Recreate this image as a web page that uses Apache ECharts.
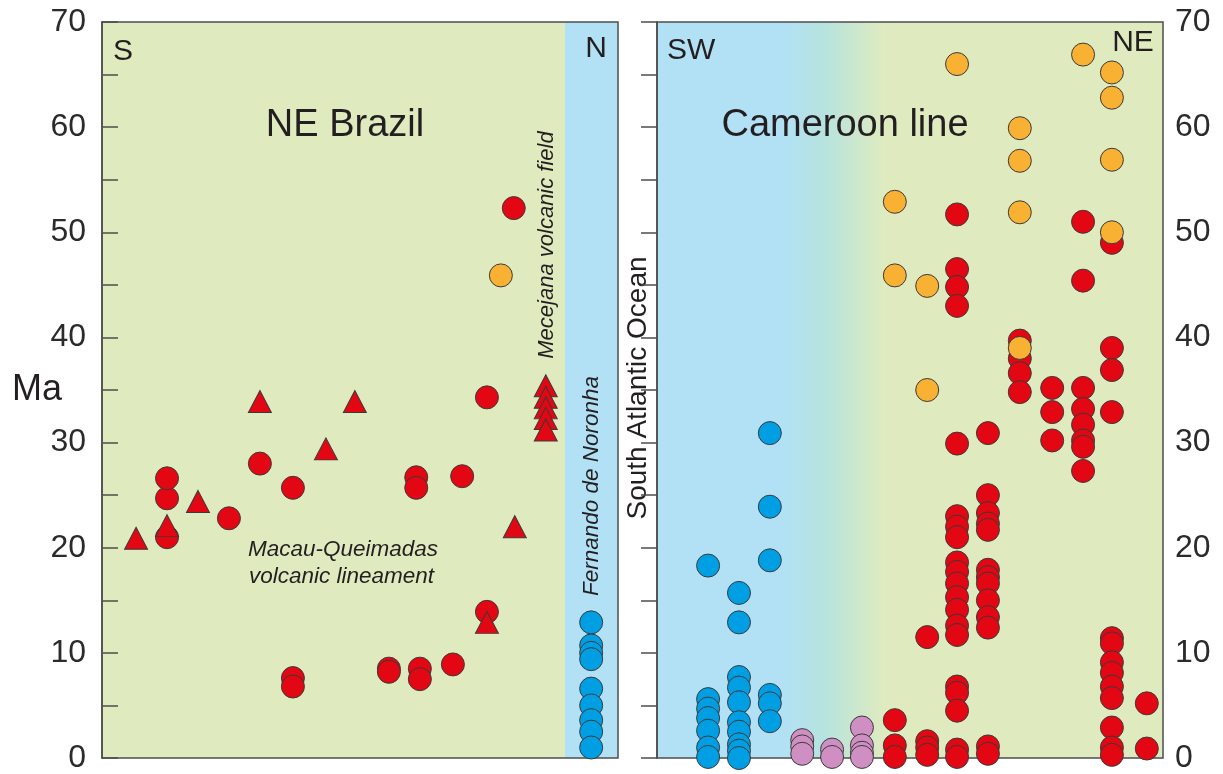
<!DOCTYPE html>
<html>
<head>
<meta charset="utf-8">
<script src="https://cdn.jsdelivr.net/npm/echarts@6/dist/echarts.min.js"></script>
<style>
html,body{margin:0;padding:0;background:#fff;}
#chart{width:1223px;height:774px;}
</style>
</head>
<body>
<div id="chart"></div>
<script>
// ---- axis ----
const ageMin = 0, ageMax = 70, ageStep = 10;
const yAxisTitle = 'Ma';

// ---- NE Brazil panel: [position along section (0-100), [ages Ma]] ----
const brazilRedCircles = [
  [12.6, [21.0, 24.7, 26.6]],
  [24.6, [22.8]],
  [30.6, [28.0]],
  [37.0, [25.7, 7.6, 6.8]],
  [55.6, [8.5, 8.2]],
  [60.9, [26.7, 25.7]],
  [61.6, [8.5, 7.5]],
  [68.0, [8.9]],
  [69.8, [26.8]],
  [74.6, [34.3, 13.9]],
  [79.8, [52.3]]
];
const brazilRedTriangles = [
  [6.6, [20.9]],
  [12.6, [22.1]],
  [18.6, [24.4]],
  [30.6, [33.9]],
  [43.4, [29.4]],
  [49.0, [33.9]],
  [74.6, [12.9]],
  [80.0, [22.0]],
  [86.0, [35.4, 34.3, 33.3, 32.3, 31.2]]
];
const brazilOrange = [
  [77.3, [45.9]]
];
const noronhaBlue = [
  [94.8, [12.9, 10.7, 10.0, 9.4, 6.6, 5.0, 3.6, 2.5, 1.0]]
];

// ---- Cameroon line panel ----
const cameroonBlue = [
  [10.1, [18.3, 5.6, 4.7, 3.8, 2.6, 1.0, 0.1]],
  [16.2, [15.7, 12.9, 7.7, 6.7, 5.3, 3.4, 2.5, 1.3, 0.7, 0.0]],
  [22.3, [30.9, 23.9, 18.8, 6.0, 5.2, 3.5]]
];
const cameroonPink = [
  [28.7, [1.7, 1.1, 0.4]],
  [34.6, [0.8, 0.1]],
  [40.5, [2.9, 1.2, 0.5, 0.1]]
];
const cameroonRed = [
  [47.0, [3.6, 1.2, 0.1]],
  [53.4, [11.5, 1.6, 1.0, 0.3]],
  [59.3, [51.7, 46.5, 44.8, 43.0, 29.9, 23.0, 22.0, 21.0, 18.6, 17.7, 16.6, 15.3, 14.1, 12.6, 11.7, 6.8, 6.2, 4.5, 0.8, 0.1]],
  [65.4, [30.9, 25.0, 23.3, 22.3, 21.7, 17.9, 17.2, 16.6, 15.0, 13.4, 12.4, 1.1, 0.4]],
  [71.7, [39.7, 38.0, 36.6, 34.8]],
  [78.1, [35.2, 32.9, 30.2]],
  [84.2, [51.0, 45.4, 35.2, 33.2, 31.7, 30.2, 29.6, 27.3]],
  [89.9, [49.0, 39.0, 36.9, 32.9, 11.4, 10.9, 9.1, 8.1, 6.8, 5.7, 2.9, 1.0, 0.3]],
  [96.8, [5.2, 0.9]]
];
const cameroonOrange = [
  [47.0, [52.9, 45.9]],
  [53.4, [44.9, 35.0]],
  [59.3, [66.0]],
  [71.7, [59.9, 56.8, 51.9, 39.0]],
  [84.2, [66.9]],
  [89.9, [65.2, 62.8, 56.9, 50.0]]
];

// ---- styling ----
const FONT = "'Liberation Sans', Arial, Helvetica, sans-serif";
const TXT = '#231f20';
const RED = '#e30613', ORANGE = '#f8b133', BLUE = '#009fe3', PINK = '#cf8fc3';
const GREEN_BG = '#dfebbf', BLUE_BG = '#b2e1f5';
const FRAME = '#4d4d4d';
const stripStart = 0.897; // fraction of the NE Brazil panel where the ocean strip begins

function flatten(cols) {
  const out = [];
  cols.forEach(c => c[1].forEach(a => out.push([c[0], a])));
  return out;
}

function scatter(name, cols, color, gi, symbol) {
  return {
    name: name,
    type: 'scatter',
    xAxisIndex: gi, yAxisIndex: gi,
    data: flatten(cols),
    symbol: symbol || 'circle',
    symbolSize: symbol === 'triangle' ? [23, 22] : 23,
    clip: false,
    itemStyle: { color: color, borderColor: '#3a3a3a', borderWidth: 1, opacity: 1 },
    emphasis: { disabled: true },
    silent: true
  };
}

function yAxisFor(gi, pos) {
  return {
    gridIndex: gi, type: 'value', min: ageMin, max: ageMax, interval: ageStep,
    position: pos,
    axisLine: { show: true, lineStyle: { color: FRAME, width: 1.5 } },
    axisTick: { show: true, inside: true, length: 16, lineStyle: { color: FRAME, width: 1.5 } },
    minorTick: { show: true, splitNumber: 2, length: 16, lineStyle: { color: FRAME, width: 1.5 } },
    axisLabel: { fontSize: 32, color: '#2b2b2b', fontFamily: FONT, margin: pos === 'left' ? 16 : 12 },
    splitLine: { show: false }
  };
}

const chart = echarts.init(document.getElementById('chart'), null, { renderer: 'canvas' });

const option = {
  animation: false,
  backgroundColor: '#ffffff',
  grid: [
    {
      left: 102, top: 22, width: 516, height: 736, show: true,
      borderColor: FRAME, borderWidth: 1.5,
      backgroundColor: {
        type: 'linear', x: 0, y: 0, x2: 1, y2: 0,
        colorStops: [
          { offset: 0, color: GREEN_BG }, { offset: stripStart, color: GREEN_BG },
          { offset: stripStart, color: BLUE_BG }, { offset: 1, color: BLUE_BG }
        ]
      }
    },
    {
      left: 657, top: 22, width: 506, height: 736, show: true,
      borderColor: FRAME, borderWidth: 1.5,
      backgroundColor: {
        type: 'linear', x: 0, y: 0, x2: 1, y2: 0,
        colorStops: [
          { offset: 0, color: BLUE_BG }, { offset: 0.25, color: BLUE_BG },
          { offset: 0.33, color: '#b6e3df' },
          { offset: 0.45, color: GREEN_BG }, { offset: 1, color: GREEN_BG }
        ]
      }
    }
  ],
  xAxis: [
    { gridIndex: 0, type: 'value', min: 0, max: 100, show: false },
    { gridIndex: 1, type: 'value', min: 0, max: 100, show: false }
  ],
  yAxis: [ yAxisFor(0, 'left'), yAxisFor(1, 'right') ],
  series: [
    scatter('NE Brazil basalt', brazilRedCircles, RED, 0),
    scatter('NE Brazil triangles', brazilRedTriangles, RED, 0, 'triangle'),
    scatter('NE Brazil orange', brazilOrange, ORANGE, 0),
    scatter('Fernando de Noronha', noronhaBlue, BLUE, 0),
    scatter('Cameroon oceanic', cameroonBlue, BLUE, 1),
    scatter('Cameroon transition', cameroonPink, PINK, 1),
    scatter('Cameroon continental', cameroonRed, RED, 1),
    scatter('Cameroon older', cameroonOrange, ORANGE, 1)
  ],
  graphic: [
    { type: 'text', left: 113, top: 37, style: { text: 'S', font: '30px ' + FONT, fill: TXT } },
    { type: 'text', x: 596, y: 49, style: { text: 'N', font: '30px ' + FONT, fill: TXT, align: 'center', verticalAlign: 'middle' } },
    { type: 'text', x: 345, y: 126, style: { text: 'NE Brazil', font: '38px ' + FONT, fill: TXT, align: 'center', verticalAlign: 'middle' } },
    { type: 'text', x: 845, y: 126, style: { text: 'Cameroon line', font: '38px ' + FONT, fill: TXT, align: 'center', verticalAlign: 'middle' } },
    { type: 'text', left: 667, top: 36, style: { text: 'SW', font: '30px ' + FONT, fill: TXT } },
    { type: 'text', x: 1133, y: 43, style: { text: 'NE', font: '30px ' + FONT, fill: TXT, align: 'center', verticalAlign: 'middle' } },
    { type: 'text', x: 37, y: 390, style: { text: yAxisTitle, font: '36px ' + FONT, fill: TXT, align: 'center', verticalAlign: 'middle' } },
    { type: 'text', x: 547, y: 245, rotation: Math.PI / 2, style: { text: 'Mecejana volcanic field', font: 'italic 22px ' + FONT, fill: TXT, align: 'center', verticalAlign: 'middle' } },
    { type: 'text', x: 592, y: 486, rotation: Math.PI / 2, style: { text: 'Fernando de Noronha', font: 'italic 22.5px ' + FONT, fill: TXT, align: 'center', verticalAlign: 'middle' } },
    { type: 'text', x: 638, y: 388, rotation: Math.PI / 2, style: { text: 'South Atlantic Ocean', font: '28px ' + FONT, fill: TXT, align: 'center', verticalAlign: 'middle' } },
    { type: 'text', x: 248, y: 550, style: { text: 'Macau-Queimadas', font: 'italic 22.5px ' + FONT, fill: TXT, align: 'left', verticalAlign: 'middle' } },
    { type: 'text', x: 249, y: 577, style: { text: 'volcanic lineament', font: 'italic 22.5px ' + FONT, fill: TXT, align: 'left', verticalAlign: 'middle' } }
  ]
};
chart.setOption(option);
</script>
</body>
</html>
